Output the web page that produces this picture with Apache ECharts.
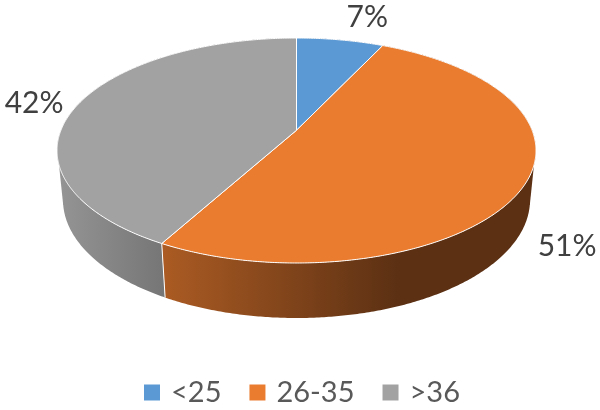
<!DOCTYPE html>
<html><head><meta charset="utf-8">
<style>html,body{margin:0;padding:0;background:#fff}#c{width:600px;height:410px}</style>
<script src="https://cdn.jsdelivr.net/npm/echarts@6/dist/echarts.min.js"></script>
</head><body><div id="c"></div>
<script>
var categories = ['<25', '26-35', '>36'];
var values = [7, 51, 42];
var colors = ['#5b99d4', '#ea7c30', '#a2a2a2'];
var labelNudgeX = [27, 42, -44];
var labelNudgeY = [-23, 62, -1];

var total = values.reduce(function (a, b) { return a + b; }, 0);
var TOP = { cx: 296.5, cy: 150.5, rx: 239.5, ry: 112.5 };
var BOT = { cx: 296.5, cy: 200, rx: 233.5, ry: 118 };
var TILT = -0.18;
var SILHOUETTE = [[107.6, 102.7], [252.4, 257.3]];

function project(e, deg) {
  var t = deg * Math.PI / 180, u = Math.sin(t), v = -Math.cos(t);
  var den = 1 + TILT * v;
  return [e.cx + e.rx * u * Math.sqrt(1 - TILT * TILT) / den,
          e.cy + e.ry * (v + TILT) / den];
}
function arc(e, a0, a1) {
  var pts = [], n = Math.max(2, Math.ceil((a1 - a0) * 2));
  for (var i = 0; i <= n; i++) pts.push(project(e, a0 + (a1 - a0) * i / n));
  return pts;
}
function shade(hex, f) {
  var n = parseInt(hex.slice(1), 16);
  return 'rgb(' + [(n >> 16) & 255, (n >> 8) & 255, n & 255].map(function (c) { return Math.round(c * f); }).join(',') + ')';
}
function sideFill(hex) {
  return { type: 'linear', x: 57, y: 0, x2: 400, y2: 0, global: true, colorStops: [
    { offset: 0, color: shade(hex, 0.92) },
    { offset: 0.31, color: shade(hex, 0.73) },
    { offset: 1, color: shade(hex, 0.39) }
  ] };
}
function startAngle(i) {
  var s = 0; for (var k = 0; k < i; k++) s += values[k];
  return s / total * 360;
}
function renderSlice(params) {
  var i = params.seriesIndex;
  var a0 = startAngle(i), a1 = a0 + values[i] / total * 360;
  var rimTop = arc(TOP, a0, a1), rimBot = arc(BOT, a0, a1).reverse();
  var apex = [TOP.cx, TOP.cy + TOP.ry * TILT];
  var mid = project(TOP, (a0 + a1) / 2);
  var children = [
    { type: 'polygon', z2: 1, shape: { points: rimTop.concat(rimBot) }, style: { fill: sideFill(colors[i]), stroke: null } },
    { type: 'line', z2: 2, shape: { x1: project(TOP, a0)[0], y1: project(TOP, a0)[1], x2: project(BOT, a0)[0], y2: project(BOT, a0)[1] }, style: { stroke: '#fff', lineWidth: 1 } },
    { type: 'polygon', z2: 3, shape: { points: [apex].concat(rimTop) }, style: { fill: colors[i], stroke: '#fff', lineWidth: 1 } },
    { type: 'text', z2: 4, style: { text: Math.round(values[i] / total * 100) + '%',
        x: mid[0] + labelNudgeX[i], y: mid[1] + labelNudgeY[i], align: 'center', verticalAlign: 'middle',
        fill: '#404040', font: '30px Lato' } }
  ];
  SILHOUETTE.forEach(function (s) {
    if (s[0] > a0 && s[0] < a1) {
      children.push({ type: 'polygon', z2: 1, shape: { points: [project(TOP, s[0]), project(BOT, s[1]), apex] },
        style: { fill: sideFill(colors[i]), stroke: null } });
    }
  });
  return { type: 'group', children: children };
}
var chart = echarts.init(document.getElementById('c'), null, { renderer: 'canvas' });
chart.setOption({
  animation: false,
  backgroundColor: '#fff',
  legend: {
    left: 144, top: 378, padding: 0, icon: 'rect', itemWidth: 16, itemHeight: 16, itemGap: 28,
    data: categories,
    textStyle: { color: '#595959', fontFamily: 'Lato', fontSize: 29, padding: [0, 0, 0, 6] }
  },
  series: categories.map(function (name, i) {
    return { type: 'custom', name: name, coordinateSystem: 'none', silent: true,
      itemStyle: { color: colors[i] }, data: [values[i]], renderItem: renderSlice };
  })
});
</script></body></html>
